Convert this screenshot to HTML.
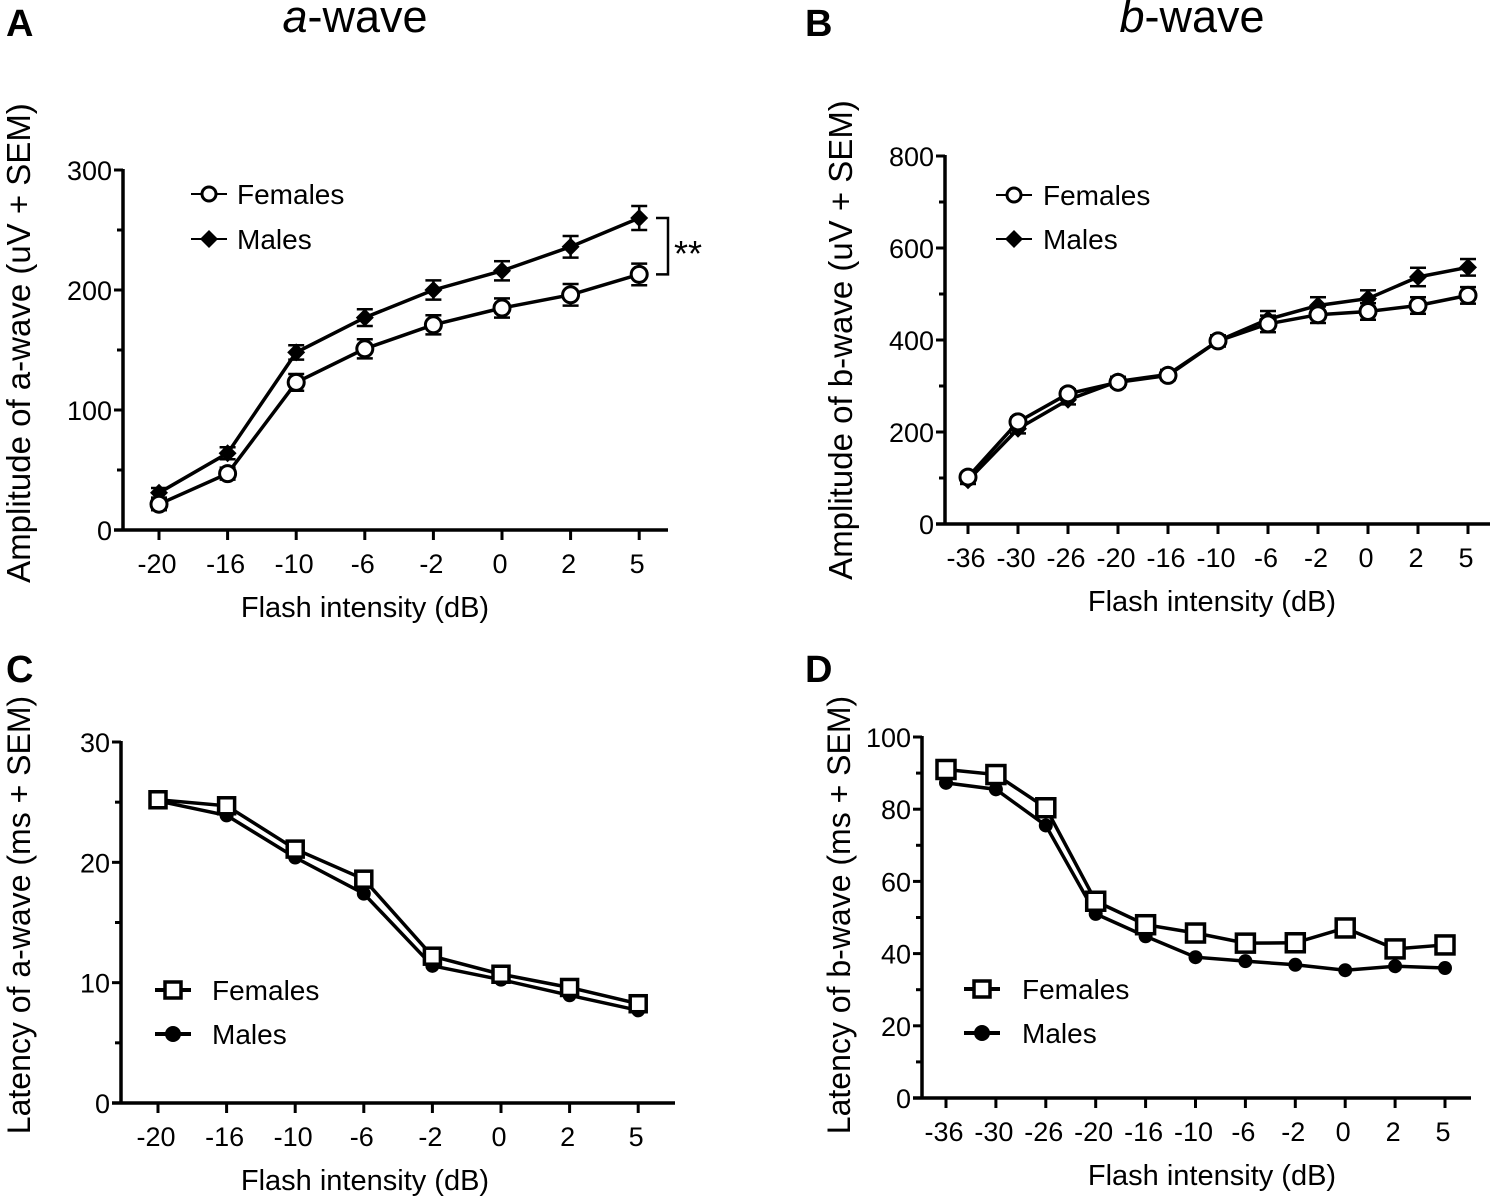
<!DOCTYPE html>
<html><head><meta charset="utf-8"><style>
body{margin:0;background:#fff;}
svg{display:block;font-family:"Liberation Sans",sans-serif;}
</style></head><body>
<svg id="fig" width="1499" height="1201" viewBox="0 0 1499 1201" xmlns="http://www.w3.org/2000/svg">
<text x="6" y="36" font-size="38" font-weight="bold">A</text>
<text x="355" y="32" font-size="45" text-anchor="middle"><tspan font-style="italic">a</tspan>-wave</text>
<text x="805" y="36" font-size="38" font-weight="bold">B</text>
<text x="1192" y="32" font-size="45" text-anchor="middle"><tspan font-style="italic">b</tspan>-wave</text>
<text x="6" y="682" font-size="38" font-weight="bold">C</text>
<text x="805" y="682" font-size="38" font-weight="bold">D</text>
</svg>
<script>
const catsA = ["-20","-16","-10","-6","-2","0","2","5"];
const catsB = ["-36","-30","-26","-20","-16","-10","-6","-2","0","2","5"];
const ampAFemales = [21.5,47,123,151,171,185,196,213];
const ampAFemalesErr = [5,5,7,8,8,8,9,9];
const ampAMales = [31,64,148,177,200,216,236,260];
const ampAMalesErr = [4,5,6,7,8,8,9,10];
const ampBFemales = [102,222,283,308,323,398,435,455,462,475,497];
const ampBFemalesErr = [8,10,10,10,10,12,18,18,18,18,18];
const ampBMales = [95,207,270,310,325,398,445,475,490,537,558];
const ampBMalesErr = [8,10,10,10,10,12,18,18,18,20,18];
const latAFemales = [25.2,24.7,21.1,18.6,12.2,10.7,9.6,8.25];
const latAMales = [25.1,23.9,20.4,17.4,11.4,10.25,8.95,7.7];
const latBFemales = [91,89.6,80.4,54.5,48,45.7,42.9,43,47.1,41.3,42.4];
const latBMales = [87.3,85.5,75.5,51,44.8,39,37.9,36.9,35.4,36.5,36];
const ticksA = [0,100,200,300];
const ticksB = [0,200,400,600,800];
const ticksC = [0,10,20,30];
const ticksD = [0,20,40,60,80,100];

const NS = "http://www.w3.org/2000/svg";
const svg = document.getElementById('fig');
function mk(tag, attrs, parent){const e=document.createElementNS(NS,tag);for(const k in attrs)e.setAttribute(k,attrs[k]);(parent||svg).appendChild(e);return e;}

function panel(cfg){
  const g = mk('g',{});
  
  
  const yS = v => cfg.y0 - (v - 0) / cfg.ymax * (cfg.y0 - cfg.ytop);
  const xS = i => cfg.x0 + i * cfg.dx;
  const ya = mk('line',{x1:cfg.ax,y1:cfg.ytop-1,x2:cfg.ax,y2:cfg.y0+1.5,stroke:'#000','stroke-width':3.5},g);
  
  
  cfg.yticks.forEach((t,k)=>{
    mk('line',{x1:cfg.ax-9,y1:yS(t),x2:cfg.ax,y2:yS(t),stroke:'#000','stroke-width':3},g);
    const tl = mk('text',{x:cfg.ax-11,y:yS(t)+10,'font-size':27,'text-anchor':'end'},g);
    tl.textContent = t;
    
    
    if(k<cfg.yticks.length-1){
      const m=(t+cfg.yticks[k+1])/2;
      mk('line',{x1:cfg.ax-6,y1:yS(m),x2:cfg.ax,y2:yS(m),stroke:'#000','stroke-width':3},g);
    }
  });
  const xa = mk('line',{x1:cfg.ax-9,y1:cfg.y0,x2:cfg.xend,y2:cfg.y0,stroke:'#000','stroke-width':3.5},g);
  
  
  cfg.cats.forEach((c,i)=>{
    mk('line',{x1:xS(i),y1:cfg.y0,x2:xS(i),y2:cfg.y0+10,stroke:'#000','stroke-width':3},g);
    const tl = mk('text',{x:xS(i)-2,y:cfg.y0+43,'font-size':27,'text-anchor':'middle'},g);
    tl.textContent = c;
    
    
  });
  const xl = mk('text',{x:cfg.xlabx,y:cfg.y0+87,'font-size':29,'text-anchor':'middle'},g);
  xl.textContent = 'Flash intensity (dB)';
  
  
  const yl = mk('text',{x:0,y:0,'font-size':cfg.ylfs,'text-anchor':'middle',transform:`translate(${cfg.ylx},${cfg.yly}) rotate(-90)`},g);
  yl.textContent = cfg.ylabel;
  
  
  cfg.series.forEach(s=>{
    const sg = mk('g',{},g);
    
    
    if(s.err){
      s.vals.forEach((v,i)=>{
        const yt=yS(v+s.err[i]), yb=yS(v-s.err[i]);
        mk('line',{x1:xS(i),y1:yt,x2:xS(i),y2:yb,stroke:'#000','stroke-width':2.5},sg);
        mk('line',{x1:xS(i)-8,y1:yt,x2:xS(i)+8,y2:yt,stroke:'#000','stroke-width':2.5},sg);
        mk('line',{x1:xS(i)-8,y1:yb,x2:xS(i)+8,y2:yb,stroke:'#000','stroke-width':2.5},sg);
      });
    }
    mk('polyline',{points:s.vals.map((v,i)=>xS(i)+','+yS(v)).join(' '),fill:'none',stroke:'#000','stroke-width':3.5},sg);
    s.vals.forEach((v,i)=>{
      const m = marker(s.shape, xS(i), yS(v), sg, s.size);
      
      
    });
  });
  cfg.legend.forEach(L=>{
    const lg = mk('g',{},g);
    
    
    mk('line',{x1:L.x-L.hw,y1:L.y,x2:L.x+L.hw,y2:L.y,stroke:'#000','stroke-width':L.sw},lg);
    marker(L.shape,L.x,L.y,lg,L.size);
    const t = mk('text',{x:L.tx,y:L.y+10,'font-size':28},lg);
    t.textContent = L.label;
  });
  return g;
}
function marker(shape,x,y,p,size){
  if(shape==='circle') return mk('circle',{cx:x,cy:y,r:size||8,fill:'#fff',stroke:'#000','stroke-width':3},p);
  if(shape==='dot') return mk('circle',{cx:x,cy:y,r:size||7,fill:'#000'},p);
  if(shape==='diamond'){const r=size||9;return mk('polygon',{points:`${x},${y-r} ${x+r},${y} ${x},${y+r} ${x-r},${y}`,fill:'#000'},p);}
  if(shape==='square'){const r=size||8;return mk('rect',{x:x-r,y:y-r,width:2*r,height:2*r,fill:'#fff',stroke:'#000','stroke-width':3.5},p);}
}

panel({name:'chart-a-amplitude',cats:catsA,ax:123,x0:159,dx:68.6,xend:668,y0:530,ytop:170,ymax:300,yticks:ticksA,
  xlabx:365,ylabel:'Amplitude of a-wave (uV + SEM)',ylfs:33,ylx:30,yly:343,
  series:[{name:'series-males',vals:ampAMales,err:ampAMalesErr,shape:'diamond'},{name:'series-females',vals:ampAFemales,err:ampAFemalesErr,shape:'circle'}],
  legend:[{x:209,y:194,hw:18,sw:2,shape:'circle',size:7,tx:237,label:'Females'},{x:209,y:239,hw:18,sw:2,shape:'diamond',size:9,tx:237,label:'Males'}]});
panel({name:'chart-b-amplitude',cats:catsB,ax:945,x0:968,dx:50,xend:1490,y0:524,ytop:156,ymax:800,yticks:ticksB,
  xlabx:1212,ylabel:'Amplitude of b-wave (uV + SEM)',ylfs:33,ylx:852,yly:340,
  series:[{name:'series-males',vals:ampBMales,err:ampBMalesErr,shape:'diamond'},{name:'series-females',vals:ampBFemales,err:ampBFemalesErr,shape:'circle'}],
  legend:[{x:1014,y:195,hw:18,sw:2,shape:'circle',size:7,tx:1043,label:'Females'},{x:1014,y:239,hw:18,sw:2,shape:'diamond',size:9,tx:1043,label:'Males'}]});
panel({name:'chart-c-latency',cats:catsA,ax:121,x0:158,dx:68.6,xend:675,y0:1103,ytop:742,ymax:30,yticks:ticksC,
  xlabx:365,ylabel:'Latency of a-wave (ms + SEM)',ylfs:32,ylx:30,yly:915,
  series:[{name:'series-males',vals:latAMales,shape:'dot',size:7},{name:'series-females',vals:latAFemales,shape:'square',size:8}],
  legend:[{x:173,y:990,hw:18,sw:4,shape:'square',size:8,tx:212,label:'Females'},{x:173,y:1034,hw:18,sw:4,shape:'dot',size:8,tx:212,label:'Males'}]});
panel({name:'chart-d-latency',cats:catsB,ax:922,x0:946,dx:49.9,xend:1471,y0:1098,ytop:737,ymax:100,yticks:ticksD,
  xlabx:1212,ylabel:'Latency of b-wave (ms + SEM)',ylfs:32,ylx:850,yly:915,
  series:[{name:'series-males',vals:latBMales,shape:'dot',size:7},{name:'series-females',vals:latBFemales,shape:'square',size:9}],
  legend:[{x:982,y:989,hw:18,sw:4,shape:'square',size:8,tx:1022,label:'Females'},{x:982,y:1033,hw:18,sw:4,shape:'dot',size:8,tx:1022,label:'Males'}]});

const yA = v => 530 - v/300*360;
const br = mk('polyline',{points:`656,${yA(ampAMales[7])} 668,${yA(ampAMales[7])} 668,${yA(ampAFemales[7])} 656,${yA(ampAFemales[7])}`,fill:'none',stroke:'#000','stroke-width':2.5});


const st = mk('text',{x:674,y:(yA(ampAMales[7])+yA(ampAFemales[7]))/2+20,'font-size':36});
st.textContent = '**';


</script>
</body></html>
